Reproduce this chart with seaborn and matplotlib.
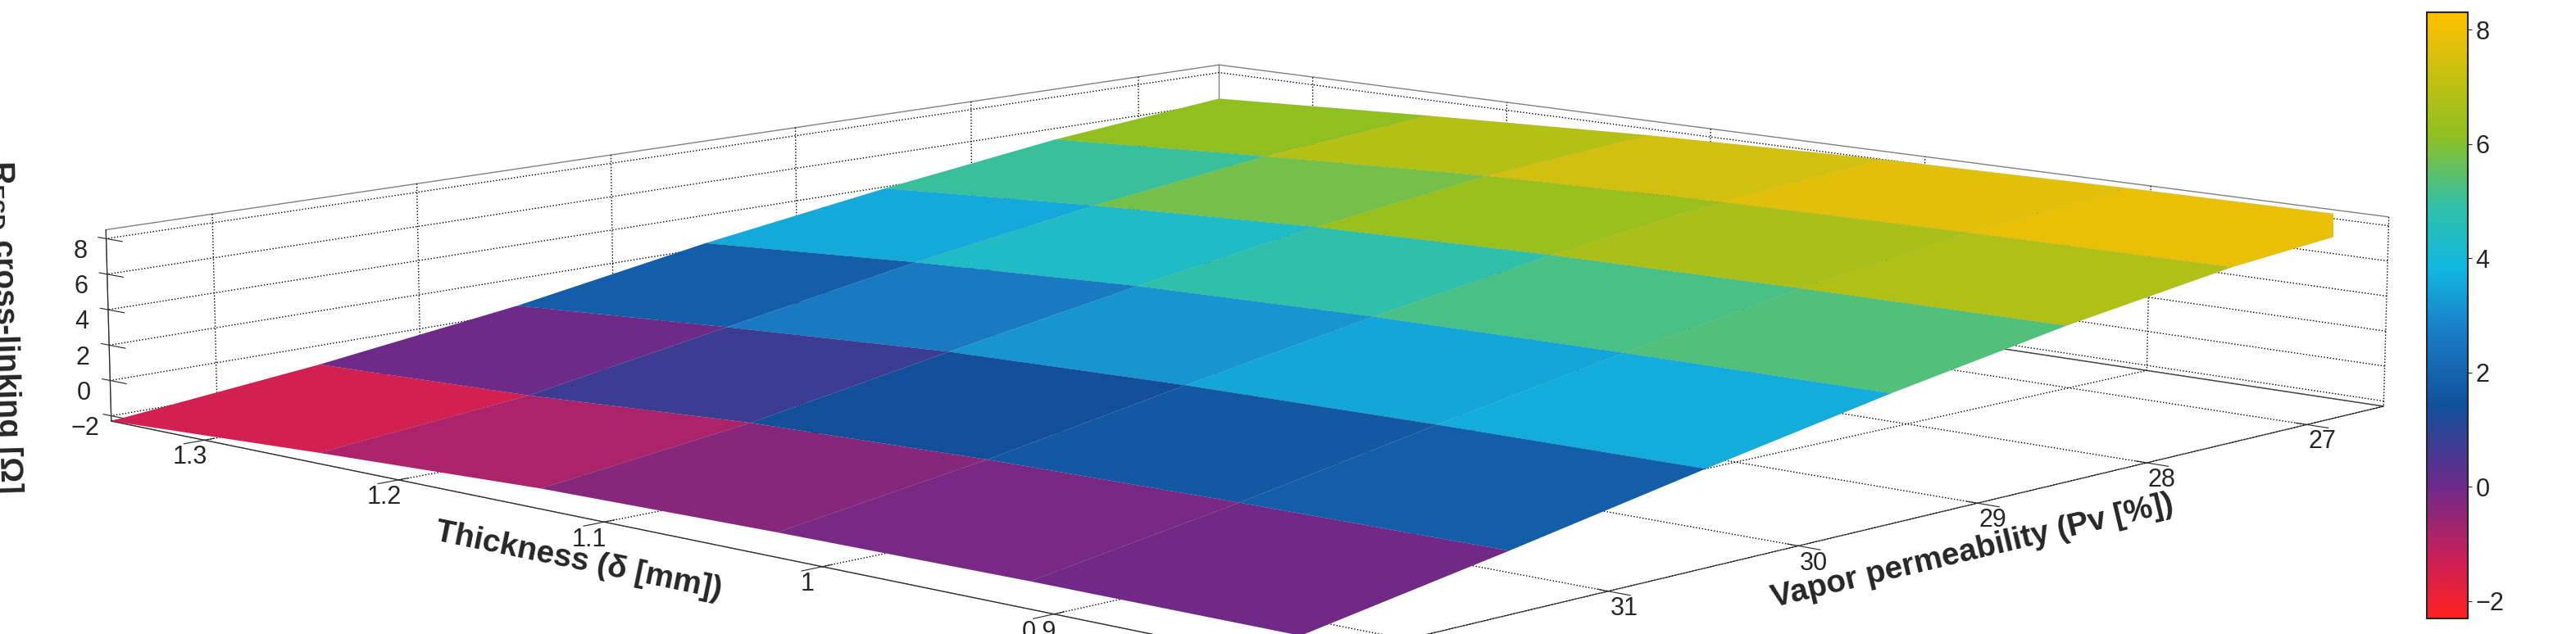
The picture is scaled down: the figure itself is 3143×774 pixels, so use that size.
import numpy as np
import matplotlib
matplotlib.use('Agg')
import matplotlib.pyplot as plt
import seaborn as sns
from matplotlib.colors import LinearSegmentedColormap, Normalize

sns.set_style('white')
plt.rcParams['font.family'] = ['Liberation Sans', 'DejaVu Sans']

# grid
thickness = [0.8, 0.91, 1.02, 1.13, 1.24, 1.35]
pv = [26.5, 27.5, 28.5, 29.5, 30.5, 31.5, 32.5]
resd = [
    [8.3, 8.2, 8.0, 7.6, 7.0, 6.3],
    [7.5, 7.4, 7.2, 6.8, 6.1, 5.3],
    [6.2, 6.1, 5.9, 5.5, 4.8, 3.9],
    [4.6, 4.5, 4.3, 3.9, 3.2, 2.3],
    [2.8, 2.7, 2.5, 2.1, 1.3, 0.4],
    [0.9, 0.8, 0.6, 0.2, -0.6, -1.1],
    [-0.9, -0.9, -1.0, -1.2, -1.7, -2.3],
]
# measured points
pt_thick = [1.30, 1.20, 1.10, 1.08, 0.98, 1.00, 0.86, 0.80]
pt_pv = [32.0, 31.8, 31.5, 31.6, 32.0, 31.0, 30.5, 27.0]
pt_z = [-1.0, -0.2, 0.3, 0.1, -0.8, 0.8, 2.5, 8.2]

cmap = LinearSegmentedColormap.from_list('rb', [
    (0.0, '#ff2020'), (0.1, '#c8205a'), (0.22, '#6a2a8a'), (0.35, '#10509a'),
    (0.48, '#1a80c8'), (0.58, '#10b8e0'), (0.68, '#30c0a8'), (0.8, '#90c020'),
    (1.0, '#ffc000')])
norm = Normalize(-2.3, 8.3)

X, Y = np.meshgrid(thickness, pv)
Z = np.array(resd)

fig = plt.figure(figsize=(31.43, 7.74), dpi=100)
ax = fig.add_axes([0.0, -1.3, 0.95, 3.5], projection='3d')
surf = ax.plot_surface(X, Y, Z, cmap=cmap, norm=norm, linewidth=0.3,
                       edgecolor=(0, 0, 0, 0.08), antialiased=True, shade=False)
ax.scatter(pt_thick, pt_pv, pt_z, color='black', s=25, depthshade=False)

ax.set_xlim(0.8, 1.35)
ax.set_ylim(26.5, 32.5)
ax.set_zlim(-2.3, 8.5)
ax.set_xticks([1.3, 1.2, 1.1, 1, 0.9, 0.8])
ax.set_xticklabels(['1.3', '1.2', '1.1', '1', '0.9', '0.8'])
ax.set_yticks([32, 31, 30, 29, 28, 27])
ax.set_zticks([-2, 0, 2, 4, 6, 8])
ax.tick_params(labelsize=22)
ax.set_xlabel('Thickness (δ [mm])', fontsize=28, fontweight='bold', labelpad=40)
ax.set_ylabel('Vapor permeability (Pv [%])', fontsize=28, fontweight='bold', labelpad=40)
ax.set_zlabel(r'R$_{\mathregular{ESD}}$ cross-linking [Ω]', fontsize=28, fontweight='bold', labelpad=25)
ax.zaxis._axinfo['juggled'] = (1, 2, 0)
ax.set_proj_type('persp', focal_length=0.6)
ax.set_box_aspect((1.0, 1.0, 0.12))
ax.view_init(elev=10, azim=133)
for a in (ax.xaxis, ax.yaxis, ax.zaxis):
    a.pane.fill = False
    a.pane.set_edgecolor('black')
    a._axinfo['grid'].update(color='black', linestyle=':', linewidth=1)

cax = fig.add_axes([0.942, 0.025, 0.016, 0.955])
cb = fig.colorbar(plt.cm.ScalarMappable(norm=Normalize(-2.3, 8.3), cmap=cmap), cax=cax)
cb.set_ticks([-2, 0, 2, 4, 6, 8])
cb.ax.tick_params(labelsize=22)
cb.outline.set_linewidth(1.5)

fig.savefig('out.png', dpi=100)
